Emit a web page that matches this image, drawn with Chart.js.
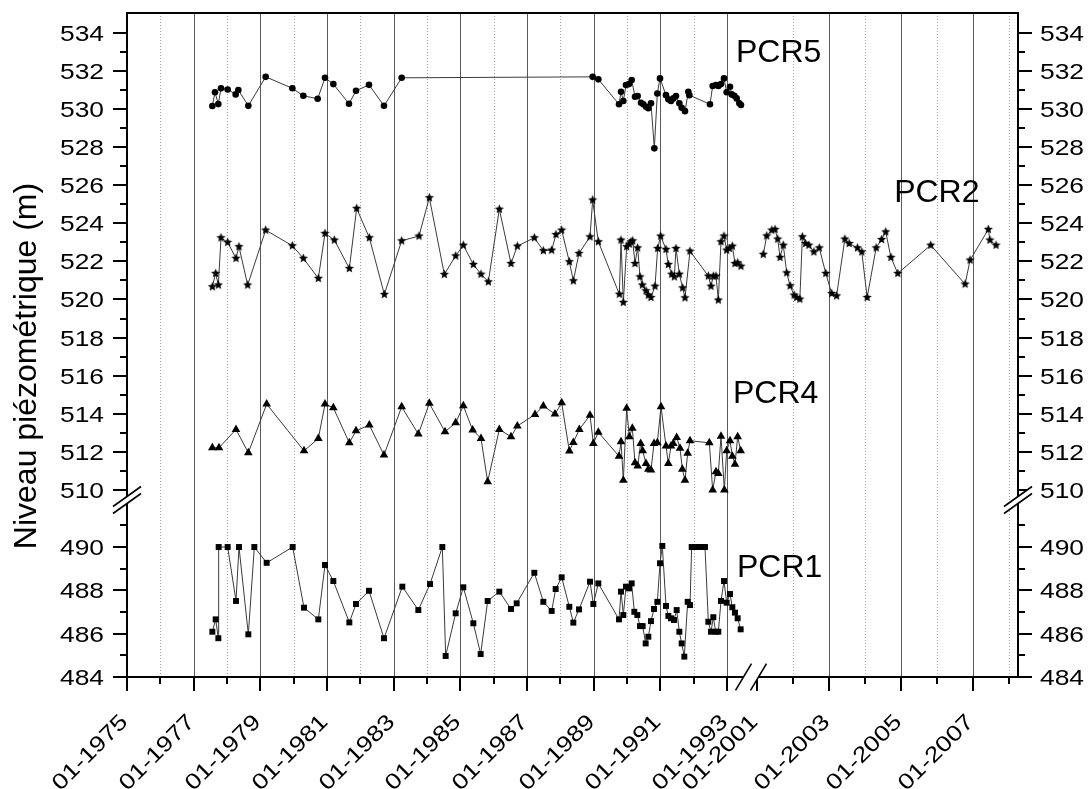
<!DOCTYPE html>
<html>
<head>
<meta charset="utf-8">
<script src="https://cdn.jsdelivr.net/npm/chart.js@4.4.1/dist/chart.umd.min.js"></script>
<style>
  html, body { margin: 0; padding: 0; background: #fff; }
  #wrap { width: 1088px; height: 789px; }
</style>
</head>
<body>
<div id="wrap"><canvas id="chart"></canvas></div>
<script>
// --- data (decimal years, metres) ---
const yearsPCR5 = [1977.56,1977.64,1977.74,1977.82,1978.02,1978.26,1978.34,1978.64,1979.16,1979.96,
  1980.29,1980.72,1980.94,1981.19,1981.66,1981.87,1982.26,1982.71,1983.24,1988.97,
  1989.14,1989.76,1989.82,1989.89,1989.97,1990.06,1990.14,1990.24,1990.32,1990.42,
  1990.49,1990.57,1990.64,1990.72,1990.82,1990.91,1990.99,1991.17,1991.24,1991.32,
  1991.39,1991.47,1991.57,1991.64,1991.74,1991.84,1991.87,1992.49,1992.57,1992.67,
  1992.74,1992.82,1992.91,1992.99,1993.09,1993.14,1993.22,1993.29,1993.37,1993.42];
const levelsPCR5 = [530.15,530.87,530.25,531.08,531.02,530.76,530.99,530.16,531.68,531.08,
  530.69,530.53,531.63,531.30,530.27,530.95,531.26,530.16,531.63,531.68,
  531.55,530.24,530.90,530.41,531.25,531.30,531.51,530.64,530.67,530.32,
  530.24,530.11,530.03,530.29,527.93,530.81,531.60,530.72,530.50,530.41,
  530.55,530.67,530.29,530.06,529.88,530.90,530.72,530.24,531.20,531.25,
  531.20,531.30,531.60,530.87,531.16,530.76,530.69,530.55,530.29,530.20];

const yearsPCR2a = [1977.56,1977.66,1977.74,1977.82,1978.02,1978.27,1978.36,1978.62,1979.16,1979.96,
  1980.29,1980.74,1980.94,1981.22,1981.67,1981.89,1982.27,1982.72,1983.24,1983.76,
  1984.07,1984.52,1984.86,1985.09,1985.39,1985.62,1985.84,1986.17,1986.52,1986.71,
  1987.22,1987.49,1987.74,1987.87,1988.04,1988.27,1988.39,1988.56,1988.89,1988.97,
  1989.14,1989.77,1989.82,1989.89,1989.99,1990.07,1990.12,1990.17,1990.24,1990.32,
  1990.39,1990.46,1990.57,1990.64,1990.72,1990.84,1990.92,1991.01,1991.17,1991.24,
  1991.34,1991.42,1991.47,1991.57,1991.67,1991.74,1991.89,1992.44,1992.52,1992.59,
  1992.67,1992.74,1992.82,1992.91,1992.99,1993.07,1993.16,1993.24,1993.32,1993.42];
const levelsPCR2a = [520.67,521.37,520.76,523.24,523.00,522.16,522.77,520.76,523.64,522.82,
  522.16,521.11,523.47,523.12,521.63,524.78,523.24,520.27,523.08,523.33,
  525.34,521.32,522.29,522.85,521.84,521.33,520.93,524.74,521.89,522.80,
  523.24,522.56,522.59,523.41,523.64,521.98,520.98,522.42,523.29,525.22,
  523.03,520.28,523.12,519.85,522.77,522.91,523.03,523.08,521.89,522.71,
  521.19,520.76,520.46,520.23,520.11,520.70,522.68,523.33,522.63,521.84,
  521.33,521.19,522.68,521.33,520.61,520.09,522.54,521.23,520.70,521.23,
  521.23,519.97,523.03,523.33,522.59,522.68,522.80,521.89,521.93,521.75];

const yearsPCR2b = [2001.175,2001.27,2001.41,2001.50,2001.575,2001.64,2001.73,2001.825,2001.92,2002.03,
  2002.10,2002.19,2002.26,2002.35,2002.44,2002.58,2002.73,2002.91,2003.075,2003.21,
  2003.44,2003.56,2003.79,2003.91,2004.06,2004.31,2004.46,2004.575,2004.72,2004.91,
  2005.825,2006.78,2006.92,2007.425,2007.47,2007.64];
const levelsPCR2b = [522.37,523.34,523.64,523.68,523.17,522.21,522.85,521.40,520.72,520.23,
  520.11,520.02,523.29,522.94,522.85,522.50,522.71,521.37,520.32,520.19,
  523.17,522.94,522.71,522.50,520.11,522.71,523.15,523.55,522.21,521.37,
  522.85,520.81,522.07,523.68,523.12,522.85];

const yearsPCR4 = [1977.56,1977.76,1978.27,1978.64,1979.19,1980.31,1980.74,1980.94,1981.19,1981.67,
  1981.87,1982.27,1982.71,1983.24,1983.74,1984.07,1984.54,1984.86,1985.09,1985.37,
  1985.62,1985.82,1986.17,1986.52,1986.71,1987.24,1987.49,1987.84,1988.04,1988.27,
  1988.39,1988.57,1988.89,1988.99,1989.14,1989.76,1989.82,1989.89,1989.99,1990.07,
  1990.16,1990.24,1990.32,1990.41,1990.47,1990.57,1990.64,1990.72,1990.81,1990.91,
  1991.02,1991.17,1991.24,1991.32,1991.39,1991.49,1991.59,1991.66,1991.74,1991.82,
  1991.89,1992.47,1992.57,1992.67,1992.74,1992.82,1992.92,1992.99,1993.09,1993.16,
  1993.24,1993.32,1993.41];
const levelsPCR4 = [512.22,512.22,513.18,511.96,514.51,512.06,512.71,514.51,514.32,512.48,
  513.11,513.41,511.84,514.37,512.94,514.55,513.06,513.53,514.42,513.15,
  512.71,510.44,513.18,512.80,513.36,513.97,514.41,513.99,514.58,512.05,
  512.50,513.18,513.93,512.45,513.03,511.78,512.53,510.52,514.29,512.80,
  513.24,511.43,511.26,512.45,512.06,511.40,511.09,511.05,512.45,512.48,
  514.37,512.31,511.40,512.31,512.45,512.76,512.19,511.09,510.52,511.93,
  512.59,512.48,510.00,510.96,510.87,512.83,510.00,512.06,512.59,511.78,
  511.36,512.80,512.06];

const yearsPCR1 = [1977.56,1977.66,1977.74,1977.75,1978.02,1978.27,1978.36,1978.64,1978.82,1979.19,
  1979.97,1980.31,1980.74,1980.94,1981.19,1981.67,1981.87,1982.26,1982.71,1983.26,
  1983.74,1984.09,1984.46,1984.56,1984.86,1985.09,1985.39,1985.61,1985.82,1986.17,
  1986.52,1986.69,1987.22,1987.49,1987.74,1987.86,1988.04,1988.27,1988.39,1988.56,
  1988.89,1988.99,1989.14,1989.76,1989.82,1989.89,1989.97,1990.06,1990.14,1990.22,
  1990.31,1990.39,1990.47,1990.56,1990.64,1990.72,1990.81,1990.91,1990.99,1991.06,
  1991.17,1991.24,1991.32,1991.41,1991.49,1991.57,1991.64,1991.72,1991.82,1991.89,
  1991.94,1992.04,1992.14,1992.24,1992.34,1992.44,1992.52,1992.59,1992.66,1992.74,
  1992.82,1992.91,1992.99,1993.09,1993.16,1993.24,1993.32,1993.41];
const levelsPCR1 = [486.09,486.66,485.79,490.00,490.00,487.51,490.00,485.97,490.00,489.27,
  490.00,487.20,486.66,489.17,488.43,486.52,487.37,487.98,485.79,488.17,
  487.09,488.29,490.00,484.97,486.94,488.14,486.48,485.06,487.51,487.94,
  487.14,487.40,488.81,487.47,487.05,488.06,488.60,487.24,486.51,487.12,
  488.40,487.37,488.32,486.66,487.94,486.86,488.17,488.09,488.32,487.01,
  486.86,486.35,486.35,485.55,485.86,486.58,487.14,487.47,489.25,490.05,
  487.28,486.82,486.71,486.63,487.09,486.09,485.55,484.94,487.47,487.32,
  490.00,490.00,490.00,490.00,490.00,486.55,486.09,486.76,486.09,486.09,
  487.51,488.43,487.43,487.83,487.22,486.97,486.71,486.20];

// --- axis ticks (broken axes) ---
const yearTicksA = [1975,1976,1977,1978,1979,1980,1981,1982,1983,1984,1985,1986,1987,1988,1989,1990,1991,1992,1993];
const yearTicksB = [2001,2002,2003,2004,2005,2006,2007,2008];
const levelTicksLow = [484,485,486,487,488,489,490,491];
const levelTicksUp = [510,511,512,513,514,515,516,517,518,519,520,521,522,523,524,525,526,527,528,529,530,531,532,533,534];

const FONT = '"Liberation Sans", Arial, sans-serif';
const LINE = '#3a3a3a';

function toPoints(xs, ys) {
  return xs.map((x, i) => ({ x: x, y: ys[i] }));
}

// small filled five-point star used as marker
function starMarker(r) {
  const c = document.createElement('canvas');
  const s = Math.ceil(r * 2) + 1;
  c.width = s; c.height = s;
  const g = c.getContext('2d');
  g.translate(s / 2, s / 2);
  g.beginPath();
  for (let i = 0; i < 10; i++) {
    const rad = i % 2 ? r * 0.45 : r;
    const a = -Math.PI / 2 + i * Math.PI / 5;
    g.lineTo(Math.cos(a) * rad, Math.sin(a) * rad);
  }
  g.closePath();
  g.fillStyle = '#000';
  g.fill();
  return c;
}
const star = starMarker(4.8);

function setTicks(values) {
  return scale => { scale.ticks = values.map(v => ({ value: v })); };
}

// text drawn a bit wider, like the original figure's axis font
function wideText(ctx, str, x, y, align, angle) {
  ctx.save();
  ctx.translate(x, y);
  if (angle) ctx.rotate(angle);
  ctx.scale(1.2, 1);
  ctx.textAlign = align;
  ctx.textBaseline = 'alphabetic';
  ctx.fillText(str, 0, 0);
  ctx.restore();
}

function seg(ctx, xa, ya, xb, yb) {
  ctx.beginPath();
  ctx.moveTo(xa, ya);
  ctx.lineTo(xb, yb);
  ctx.stroke();
}

// two parallel slashes with white between them
function breakMark(ctx, cx, cy, dx, dy, ox, oy) {
  ctx.fillStyle = '#fff';
  ctx.beginPath();
  ctx.moveTo(cx - dx - ox, cy + dy - oy);
  ctx.lineTo(cx + dx - ox, cy - dy - oy);
  ctx.lineTo(cx + dx + ox, cy - dy + oy);
  ctx.lineTo(cx - dx + ox, cy + dy + oy);
  ctx.closePath();
  ctx.fill();
  ctx.lineWidth = 1.6;
  seg(ctx, cx - dx - ox, cy + dy - oy, cx + dx - ox, cy - dy - oy);
  seg(ctx, cx - dx + ox, cy + dy + oy, cx + dx + ox, cy - dy + oy);
}

const axesPlugin = {
  id: 'axesPlugin',
  beforeDatasetsDraw(chart) {
    const { ctx, chartArea: a, scales } = chart;
    ctx.save();
    ctx.lineWidth = 1;
    [scales.x1, scales.x2].forEach(sc => {
      sc.ticks.forEach(t => {
        const px = sc.getPixelForValue(t.value);
        if (px - sc.left < 10) return; // left axis / axis break
        const x = Math.round(px) + 0.5;
        if (t.value % 2) { ctx.setLineDash([]); ctx.strokeStyle = '#5a5a5a'; }
        else { ctx.setLineDash([1, 2]); ctx.strokeStyle = '#a0a0a0'; }
        seg(ctx, x, a.top, x, a.bottom);
      });
    });
    ctx.restore();
  },
  afterDatasetsDraw(chart) {
    const { ctx, chartArea: a, scales } = chart;
    const { x1, x2, yLow, yUp } = scales;
    ctx.save();
    ctx.setLineDash([]);
    ctx.strokeStyle = '#000';
    ctx.fillStyle = '#000';
    ctx.lineWidth = 2;
    ctx.strokeRect(a.left, a.top, a.right - a.left, a.bottom - a.top);

    // y ticks, both sides
    ctx.font = '22px ' + FONT;
    [yLow, yUp].forEach(sc => sc.ticks.forEach(t => {
      if (t.value > sc.max || t.value < sc.min) return;
      const py = Math.round(sc.getPixelForValue(t.value));
      const major = t.value % 2 === 0;
      const len = major ? 14 : 7;
      ctx.lineWidth = 2;
      seg(ctx, a.left - len, py, a.left, py);
      seg(ctx, a.right, py, a.right + len, py);
      if (major) {
        wideText(ctx, String(t.value), a.left - 23, py + 8, 'right');
        wideText(ctx, String(t.value), a.right + 22, py + 8, 'left');
      }
    }));

    // x ticks and rotated labels
    [x1, x2].forEach(sc => sc.ticks.forEach(t => {
      const px = Math.round(sc.getPixelForValue(t.value));
      const major = t.value % 2 === 1;
      ctx.lineWidth = 2;
      seg(ctx, px, a.bottom, px, a.bottom + (major ? 14 : 7));
      if (major) wideText(ctx, '01-' + t.value, px + 2, a.bottom + 46, 'right', -Math.PI / 4);
    }));

    // break marks
    ctx.strokeStyle = '#000';
    const yb = yUp.bottom;
    breakMark(ctx, a.left, yb, 14, 10, 0, 3.5);
    breakMark(ctx, a.right, yb, 14, 10, 0, 3.5);
    breakMark(ctx, x2.left, a.bottom, 8, 13.3, 7.5, 0);

    // axis title
    ctx.fillStyle = '#000';
    ctx.font = '32px ' + FONT;
    ctx.save();
    ctx.translate(36, (a.top + a.bottom) / 2 + 21);
    ctx.rotate(-Math.PI / 2);
    ctx.textAlign = 'center';
    ctx.textBaseline = 'alphabetic';
    ctx.fillText('Niveau piézométrique (m)', 0, 0);
    ctx.restore();

    // well names
    ctx.font = '32px ' + FONT;
    ctx.textAlign = 'left';
    ctx.textBaseline = 'alphabetic';
    ctx.fillText('PCR5', x1.getPixelForValue(1993.27), yUp.getPixelForValue(532.45));
    ctx.fillText('PCR2', x2.getPixelForValue(2004.81), yUp.getPixelForValue(525.11));
    ctx.fillText('PCR4', x1.getPixelForValue(1993.18), yUp.getPixelForValue(514.56));
    ctx.fillText('PCR1', x1.getPixelForValue(1993.30), yLow.getPixelForValue(488.61));
    ctx.restore();
  }
};

function series(data, xAxis, yAxis, style, radius) {
  return {
    data: data,
    xAxisID: xAxis,
    yAxisID: yAxis,
    borderColor: LINE,
    borderWidth: 1,
    tension: 0,
    pointStyle: style,
    pointRadius: radius,
    pointBorderWidth: 0,
    pointBackgroundColor: '#000',
    pointBorderColor: '#000',
    fill: false
  };
}

const hiddenAxis = { display: true, grid: { display: false, drawTicks: false }, border: { display: false }, ticks: { display: false } };

new Chart(document.getElementById('chart'), {
  type: 'line',
  data: {
    datasets: [
      series(toPoints(yearsPCR5, levelsPCR5), 'x1', 'yUp', 'circle', 3.3),
      series(toPoints(yearsPCR2a, levelsPCR2a), 'x1', 'yUp', star, 4.8),
      series(toPoints(yearsPCR2b, levelsPCR2b), 'x2', 'yUp', star, 4.8),
      series(toPoints(yearsPCR4, levelsPCR4), 'x1', 'yUp', 'triangle', 5),
      series(toPoints(yearsPCR1, levelsPCR1), 'x1', 'yLow', 'rect', 4.2)
    ]
  },
  options: {
    responsive: true,
    maintainAspectRatio: false,
    animation: false,
    layout: { padding: { top: 13, right: 70, left: 0, bottom: 0 } },
    plugins: { legend: { display: false }, tooltip: { enabled: false } },
    scales: {
      yLow: Object.assign({}, hiddenAxis, {
        type: 'linear', position: 'left', stack: 'lv', stackWeight: 177,
        min: 484, max: 492.17,
        afterBuildTicks: setTicks(levelTicksLow),
        afterFit: s => { s.width = 127; }
      }),
      yUp: Object.assign({}, hiddenAxis, {
        type: 'linear', position: 'left', stack: 'lv', stackWeight: 487,
        min: 509.48, max: 535.03,
        afterBuildTicks: setTicks(levelTicksUp),
        afterFit: s => { s.width = 127; }
      }),
      x1: Object.assign({}, hiddenAxis, {
        type: 'linear', position: 'bottom', stack: 'yr', stackWeight: 624,
        min: 1975, max: 1993.72,
        afterBuildTicks: setTicks(yearTicksA),
        afterFit: s => { s.height = 112; }
      }),
      x2: Object.assign({}, hiddenAxis, {
        type: 'linear', position: 'bottom', stack: 'yr', stackWeight: 267,
        min: 2000.833, max: 2008.25,
        afterBuildTicks: setTicks(yearTicksB),
        afterFit: s => { s.height = 112; }
      })
    }
  },
  plugins: [axesPlugin]
});
</script>
</body>
</html>
